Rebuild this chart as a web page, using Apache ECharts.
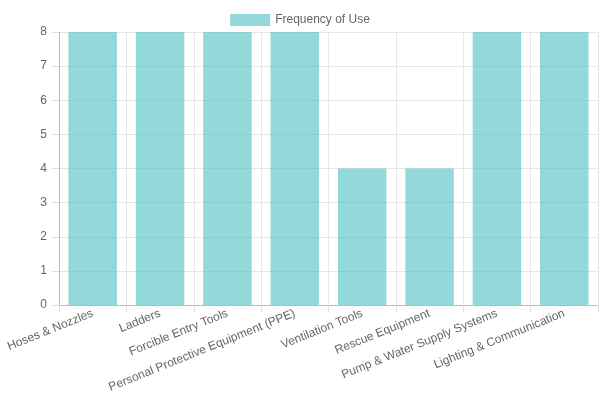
<!DOCTYPE html>
<html>
<head>
<meta charset="utf-8">
<script src="https://cdn.jsdelivr.net/npm/echarts@6/dist/echarts.min.js"></script>
<style>
  html, body { margin: 0; padding: 0; background: #fff; }
  #chart { width: 600px; height: 400px; }
</style>
</head>
<body>
<div id="chart"></div>
<script>
var categories = ['Hoses & Nozzles', 'Ladders', 'Forcible Entry Tools', 'Personal Protective Equipment (PPE)',
  'Ventilation Tools', 'Rescue Equipment', 'Pump & Water Supply Systems', 'Lighting & Communication'];
var frequency = [8, 8, 8, 8, 4, 4, 8, 8];
var seriesName = 'Frequency of Use';

document.addEventListener('DOMContentLoaded', function(){
  var chart = echarts.init(document.getElementById('chart'));
  var option = {
    animation: false,
    textStyle: { fontFamily: '"Liberation Sans", Arial, sans-serif' },
    legend: {
      top: 9,
      left: 'center',
      icon: 'rect',
      itemWidth: 40,
      itemHeight: 12,
      itemGap: 10,
      itemStyle: { borderWidth: 0 },
      textStyle: { color: '#666', fontSize: 12 },
      data: [seriesName]
    },
    grid: { left: 59, right: 2, top: 32, bottom: 95, containLabel: false },
    xAxis: {
      type: 'category',
      data: categories,
      axisLine: { show: true, lineStyle: { color: '#bbb' } },
      axisTick: { show: true, length: 7, alignWithLabel: false, lineStyle: { color: '#ddd' } },
      splitLine: { show: true, lineStyle: { color: '#e6e6e6' } },
      axisLabel: { color: '#666', fontSize: 12, rotate: 22, interval: 0, margin: 8 }
    },
    yAxis: {
      type: 'value',
      min: 0,
      max: 8,
      interval: 1,
      axisLine: { show: true, lineStyle: { color: '#bbb' } },
      axisTick: { show: true, length: 7, lineStyle: { color: '#ddd' } },
      splitLine: { show: true, lineStyle: { color: '#e6e6e6' } },
      axisLabel: { color: '#666', fontSize: 12, margin: 12 }
    },
    series: [{
      name: seriesName,
      type: 'bar',
      data: frequency,
      barCategoryGap: '28%',
      itemStyle: { color: 'rgba(75,192,192,0.6)', borderWidth: 0 }
    }]
  };
  chart.setOption(option);
});
</script>
</body>
</html>
